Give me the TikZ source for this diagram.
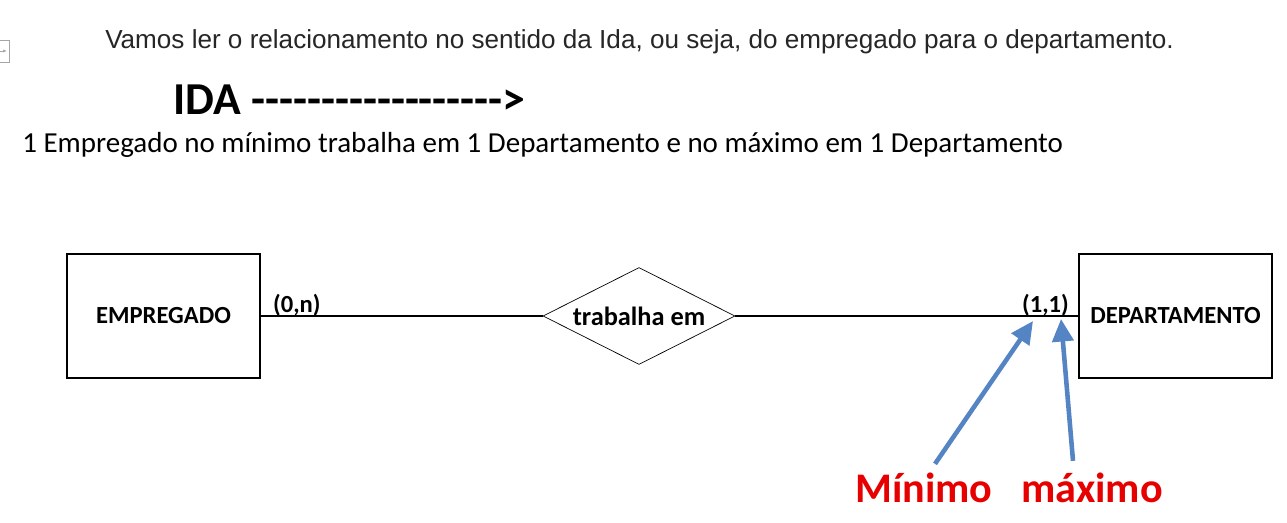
\documentclass[tikz,border=0pt]{standalone}
\usepackage{fontspec}
\setmainfont{Carlito}
\newfontfamily\arialfont{Liberation Sans}
\usetikzlibrary{arrows.meta,positioning,shapes.geometric,calc}
\definecolor{erblue}{RGB}{84,132,196}
\definecolor{erred}{RGB}{230,0,0}
\begin{document}
\begin{tikzpicture}[
    x=0.02cm,y=-0.02cm,
    entity/.style={draw,line width=1.1pt,minimum width=3.86cm,minimum height=2.47cm,inner sep=2pt,font=\fontsize{14}{16}\selectfont\bfseries},
    relation/.style={draw,diamond,aspect=2,inner sep=1pt,minimum width=3.84cm,minimum height=1.94cm,font=\fontsize{15}{17}\selectfont\bfseries},
    card/.style={inner sep=0.5pt,font=\fontsize{14}{16}\selectfont\bfseries},
    pointer/.style={-{Triangle[length=4.5mm,width=4.2mm]},line width=2.6pt,erblue},
    mark label/.style={text=erred,font=\fontsize{24}{28}\selectfont\bfseries}
  ]
    \useasboundingbox[fill=white] (0,0) rectangle (1287,523);
    \draw[gray!70] (-3,40) rectangle (9,62);
    \draw[gray!70,-{Latex[length=0.8mm]}] (0,51) -- (7,51);

    \node[font=\arialfont\fontsize{14.85}{17}\selectfont,text=black!85] (intro) at (639.5,42) {Vamos ler o relacionamento no sentido da Ida, ou seja, do empregado para o departamento.};
    \node[font=\fontsize{26}{30}\selectfont\bfseries,anchor=west,inner sep=0pt] (ida) at (173,100) {IDA \foreach \i in {1,...,18}{\hbox{-}}>};
    \node[font=\fontsize{16.5}{19}\selectfont,anchor=west,inner sep=0pt] (reading) at (22,145) {1 Empregado no mínimo trabalha em 1 Departamento e no máximo em 1 Departamento};

    \node[entity] (emp) at (163.5,316) {EMPREGADO};
    \node[relation] (works) at (639,316) {trabalha em};
    \node[entity] (dep) at (1175.5,316) {DEPARTAMENTO};

    \draw[line width=0.8pt] (emp) -- (works);
    \draw[line width=0.8pt] (works) -- (dep);

    \node[card,anchor=south west] (cardemp) at ($(emp.east)+(11,1)$) {(0,n)};
    \node[card,anchor=south east] (carddep) at ($(dep.west)+(-8,1)$) {(1,1)};

    \node[mark label] (minimo) at (924,488) {Mínimo};
    \node[mark label] (maximo) at (1092,488) {máximo};

    \coordinate (mintip) at (1033,321);
    \coordinate (maxtip) at (1061,319);
    \draw[pointer] ($(minimo.north)+(11,-3)$) -- (mintip);
    \draw[pointer] ($(maximo.north)+(-19,-6)$) -- (maxtip);
\end{tikzpicture}
\end{document}
